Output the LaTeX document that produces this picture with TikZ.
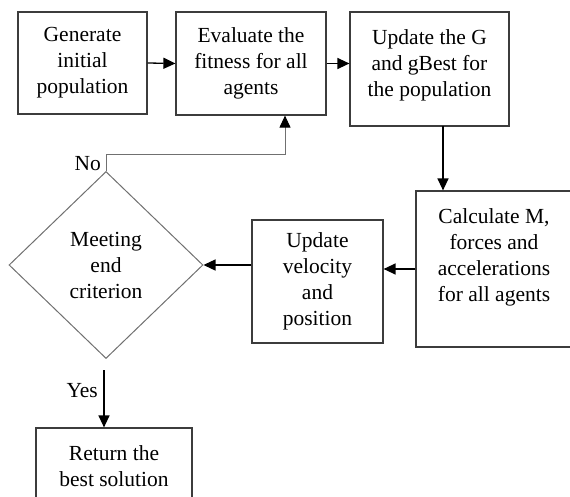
\documentclass[tikz,border=0pt]{standalone}
\usepackage{fontspec}
\setmainfont{Liberation Serif}
\usetikzlibrary{arrows.meta,shapes.geometric}
\definecolor{boxgray}{HTML}{3C3C3C}
\definecolor{diagray}{HTML}{707070}
\tikzset{flow/.style={
  x=1pt,y=-1pt,
  >={Triangle[length=12pt,width=11pt]},line join=miter,
  font=\fontsize{21.5}{26}\selectfont
},
blk/.style={draw=boxgray,line width=1.2pt,align=center,inner sep=0pt},
decide/.style={diamond,draw=diagray,line width=1pt,align=center,inner sep=0pt,aspect=1.04},
link/.style={->,line width=1.3pt}
}

\begin{document}
\begin{tikzpicture}[flow]
  \useasboundingbox (0,0) rectangle (570,497);
  \node[blk,minimum width=129pt,minimum height=102pt] (gen) at (82.5,63) {Generate\\initial\\population};
  \node[blk,minimum width=150pt,minimum height=103pt] (eval) at (251,63.5) {Evaluate the\\fitness for all\\agents};
  \node[blk,minimum width=159pt,minimum height=114pt] (upg) at (429.5,69) {Update the G\\and gBest for\\the population\\[-14pt]};
  \node[blk,minimum width=156pt,minimum height=156pt] (calc) at (494,269) {Calculate M,\\forces and\\accelerations\\for all agents\\[2pt]};
  \node[blk,minimum width=131pt,minimum height=123pt] (upv) at (317.5,281.5) {Update\\velocity\\and\\position};
  \node[decide,minimum width=194pt,minimum height=187pt] (meet) at (106,265) {Meeting\\end\\criterion};
  \node[blk,minimum width=156pt,minimum height=76pt] (ret) at (114,466) {Return the\\best solution};
  \coordinate (down) at (443,126);
  \coordinate (back) at (285,155);
  \coordinate (yes) at (104,370);
  \draw[link] (gen.east) -- (eval.west);
  \draw[link] (eval.east) -- (eval.east -| upg.west);
  \draw[link] (down) -- (down |- calc.north);
  \draw[link] (calc.west) -- (calc.west -| upv.east);
  \draw[link] (meet.east -| upv.west) -- (meet.east);
  \draw[-{Triangle[length=12pt,width=11pt,color=black]},line width=1pt,draw=diagray] (meet.north) |- (back) -- (back |- eval.south);
  \draw[link] (yes) -- (yes |- ret.north);
  \node[left,inner sep=1pt] (no) at (102,164) {No};
  \node[left,inner sep=1pt] (yeslbl) at (99,391) {Yes};
\end{tikzpicture}
\end{document}
